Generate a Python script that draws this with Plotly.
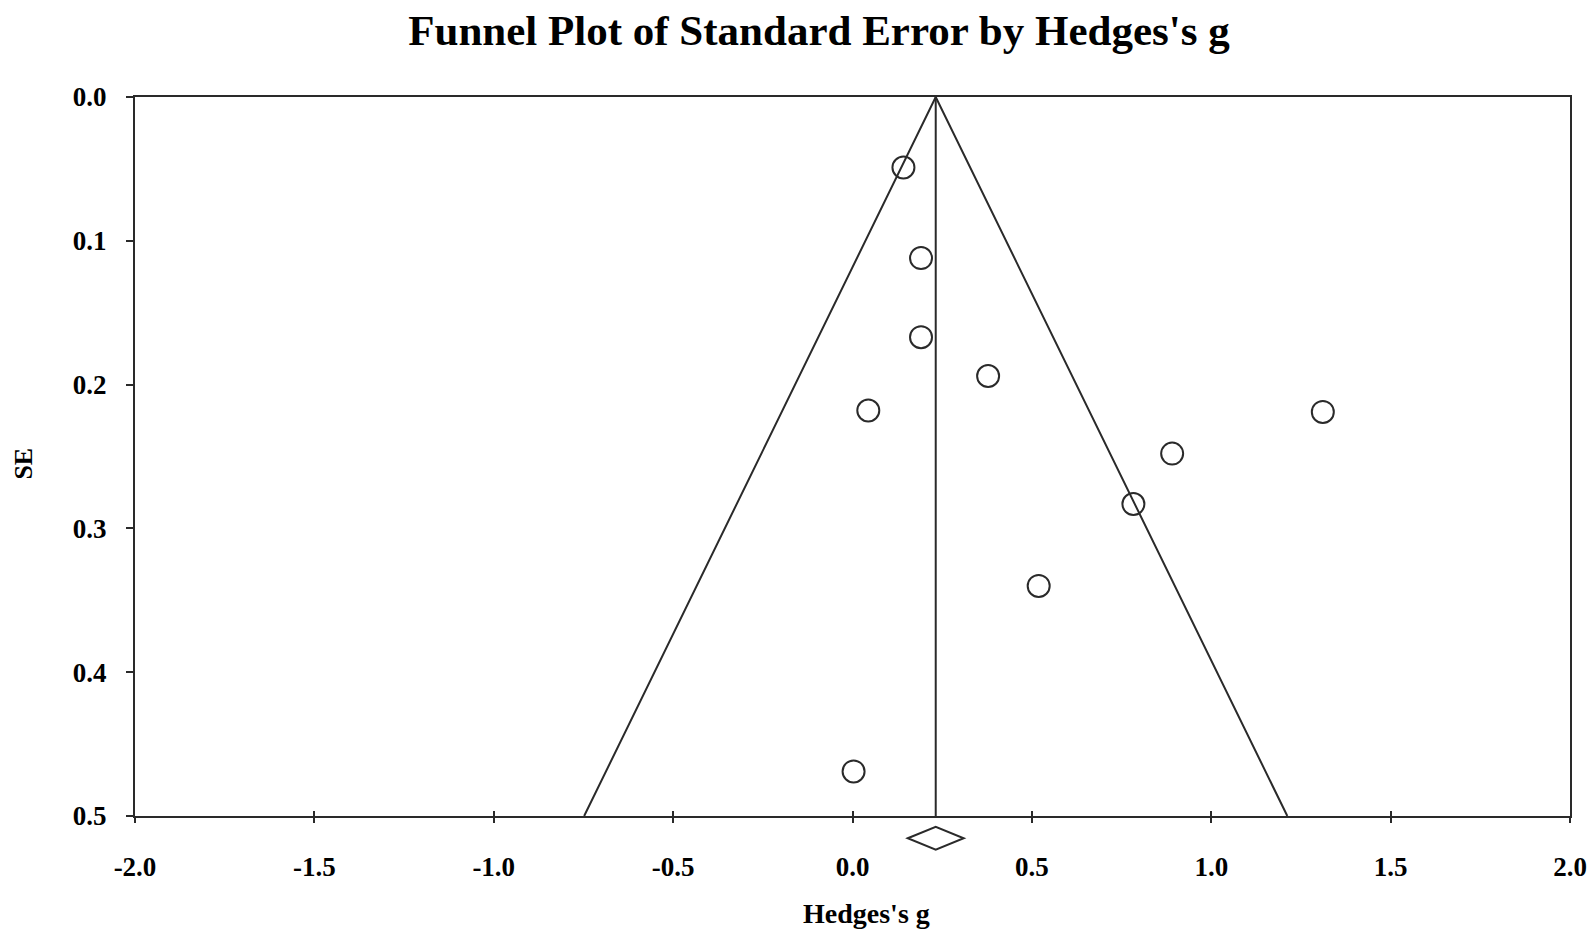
import plotly.graph_objects as go

# Study effect sizes (Hedges's g) and standard errors
hedges_g = [0.142, 0.191, 0.191, 0.378, 0.044, 1.311, 0.891, 0.783, 0.519, 0.003]
std_err = [0.049, 0.112, 0.167, 0.194, 0.218, 0.219, 0.248, 0.283, 0.340, 0.469]

# Pooled estimate and its confidence interval (diamond)
pooled_g = 0.232
pooled_ci = [0.154, 0.310]

max_se = 0.5
z = 1.96

x_ticks = [-2.0, -1.5, -1.0, -0.5, 0.0, 0.5, 1.0, 1.5, 2.0]
y_ticks = [0.0, 0.1, 0.2, 0.3, 0.4, 0.5]

LINE = "#2a2a2a"
FONT = "Liberation Serif"

fig = go.Figure()

# funnel (drawn on the label-carrying overlay x axis, same scale as x)
fig.add_trace(go.Scatter(
    x=[pooled_g - z * max_se, pooled_g, pooled_g + z * max_se],
    y=[max_se, 0.0, max_se], xaxis="x2", yaxis="y",
    mode="lines", line=dict(color=LINE, width=2), hoverinfo="skip", showlegend=False))
# vertical pooled line (on the overlay axis carrying the outer tick halves)
fig.add_trace(go.Scatter(
    x=[pooled_g, pooled_g], y=[0.0, max_se], xaxis="x3", yaxis="y",
    mode="lines", line=dict(color=LINE, width=2), hoverinfo="skip", showlegend=False))
# studies
fig.add_trace(go.Scatter(
    x=hedges_g, y=std_err, mode="markers",
    marker=dict(symbol="circle-open", size=22, color=LINE, line=dict(width=2, color=LINE)),
    showlegend=False))

# diamond below the axis (x in data units, y in paper units)
d_mid = -0.0310
d_half = 0.0160
path = "M %f,%f L %f,%f L %f,%f L %f,%f Z" % (
    pooled_ci[0], d_mid, pooled_g, d_mid + d_half, pooled_ci[1], d_mid, pooled_g, d_mid - d_half)
fig.add_shape(type="path", path=path, xref="x", yref="paper",
              line=dict(color=LINE, width=2), fillcolor="white", layer="above")

# axis titles
fig.add_annotation(text="<b>Hedges's g</b>", xref="paper", yref="paper",
                   x=0.5101, y=-0.1355, xanchor="center", yanchor="middle", showarrow=False,
                   font=dict(family=FONT, size=28, color="black"))
fig.add_annotation(text="<b>SE</b>", xref="paper", yref="paper",
                   x=-0.0774, y=0.49, xanchor="center", yanchor="middle", showarrow=False,
                   textangle=-90, font=dict(family=FONT, size=26, color="black"))

fig.update_layout(
    width=1587, height=931,
    margin=dict(l=127, r=25, t=89, b=123),
    paper_bgcolor="white", plot_bgcolor="white",
    font=dict(family=FONT, color="black"),
    title=dict(text="<b>Funnel Plot of Standard Error by Hedges's g</b>",
               font=dict(family=FONT, size=43, color="black"),
               xref="container", x=0.511, xanchor="center",
               yref="container", y=1 - 21.5 / 931, yanchor="middle"),
    xaxis=dict(range=[-2.0, 2.0], tickvals=x_ticks, showticklabels=False,
               ticks="inside", ticklen=5, tickwidth=2, tickcolor=LINE,
               automargin=False,
               showline=True, linecolor=LINE, linewidth=2, mirror=True,
               showgrid=False, zeroline=False),
    xaxis2=dict(range=[-2.0, 2.0], overlaying="x", anchor="y", side="bottom",
                tickvals=x_ticks,
                ticktext=["<b>%.1f</b>" % v for v in x_ticks],
                tickfont=dict(family=FONT, size=27, color="black"),
                ticks="outside", ticklen=27, tickwidth=1, tickcolor="rgba(0,0,0,0)",
                automargin=False, showline=False, showgrid=False, zeroline=False),
    xaxis3=dict(range=[-2.0, 2.0], overlaying="x", anchor="y", side="bottom",
                tickvals=x_ticks, showticklabels=False,
                ticks="outside", ticklen=6, tickwidth=2, tickcolor=LINE,
                automargin=False, showline=False, showgrid=False, zeroline=False),
    yaxis=dict(range=[0.5, 0.0], tickvals=y_ticks,
               ticktext=["<b>%.1f</b>" % v for v in y_ticks],
               tickfont=dict(family=FONT, size=27, color="black"),
               ticks="outside", ticklen=7, tickwidth=2, tickcolor=LINE,
               ticklabelstandoff=14, automargin=False,
               showline=True, linecolor=LINE, linewidth=2, mirror=True,
               showgrid=False, zeroline=False),
)

fig.write_html("out.html")
